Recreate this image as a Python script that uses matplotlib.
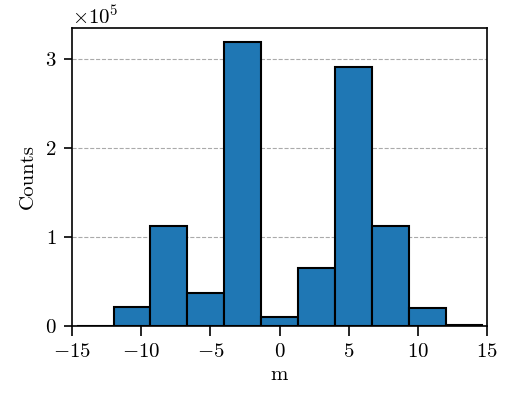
import numpy as np
import matplotlib
matplotlib.use('Agg')
import matplotlib.pyplot as plt

plt.rcParams['font.family'] = 'serif'
plt.rcParams['font.serif'] = ['cmr10']
plt.rcParams['mathtext.fontset'] = 'cm'
plt.rcParams['axes.formatter.use_mathtext'] = True
plt.rcParams['font.size'] = 15

# bin edges and counts
edges = np.linspace(-14.667, 14.667, 12)
counts = [500, 21000, 112000, 37000, 319000, 10000, 65000, 291000, 112000, 20000, 1000]

fig = plt.figure(figsize=(5.05, 3.94), dpi=100)
ax = fig.add_axes([0.1426, 0.1726, 0.9644 - 0.1426, 0.929 - 0.1726])

centers = (edges[:-1] + edges[1:]) / 2
ax.hist(centers, bins=edges, weights=counts, color='#1f77b4',
        edgecolor='black', linewidth=1.5, zorder=2)

ax.set_xlim(-15, 15)
ax.set_ylim(0, 335000)
ax.set_xticks([-15, -10, -5, 0, 5, 10, 15])
ax.set_yticks([0, 100000, 200000, 300000])
ax.ticklabel_format(axis='y', style='sci', scilimits=(0, 0))
ax.yaxis.grid(True, linestyle='--', color='#aaaaaa', linewidth=0.8, zorder=0)
ax.set_axisbelow(True)
ax.set_xlabel('m', labelpad=4)
ax.set_ylabel('Counts', labelpad=6)
for s in ax.spines.values():
    s.set_linewidth(1.2)
ax.tick_params(axis='x', width=1.2, length=7, pad=5)
ax.tick_params(axis='y', width=1.2, length=6, pad=5)

fig.savefig('out.png', dpi=100)
